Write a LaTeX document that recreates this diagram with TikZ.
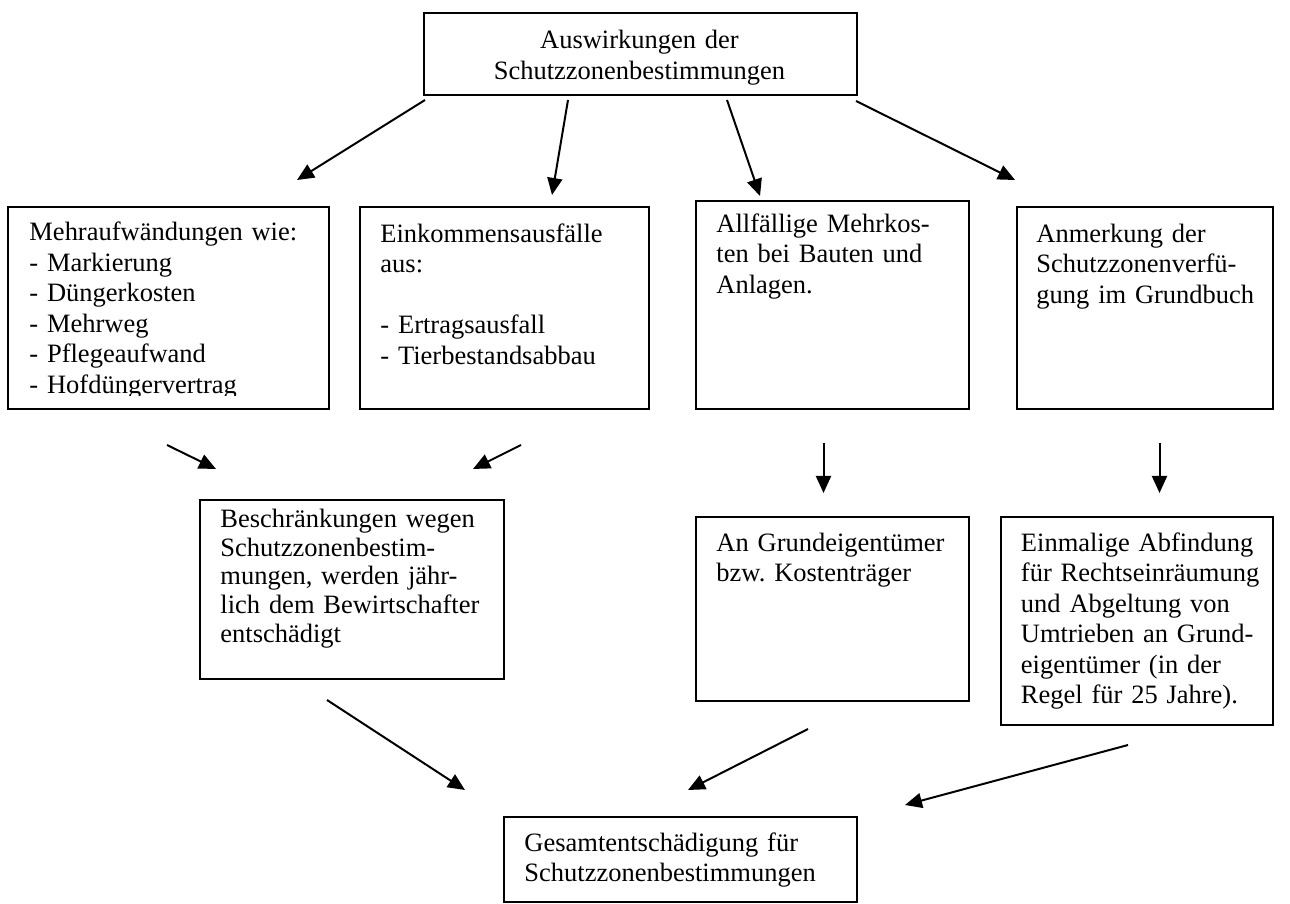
\documentclass[tikz,border=0pt]{standalone}
\usepackage{fontspec}
\setmainfont{Liberation Serif}
\usetikzlibrary{arrows.meta, calc}
\newcommand{\PixelSize}{0.453pt}
\tikzset{WhiteBox/.style={
    inner sep=0pt,
    anchor=north west,
    draw=black,
    line width=0.9pt,
    fill=white
    }
}
\tikzset{BoxText/.style={
    inner sep=0pt,
    anchor=base west,
    text width=330*\PixelSize,
    align=left,
    font=\fontsize{12}{13.8}\selectfont\frenchspacing
    }
}
\tikzset{Arrow/.style={
    draw=black,
    line width=0.9pt,
    -{Triangle[length=7.7pt, width=6.8pt]}
    }
}

\begin{document}
\begin{tikzpicture}[x=\PixelSize, y=-\PixelSize]
    \useasboundingbox (0,0) rectangle (1290,904);

    % boxes
    \node (Wirkung) [WhiteBox, minimum width=433*\PixelSize, minimum height=82*\PixelSize] at (423,12) {};
    \node (Mehr) [WhiteBox, minimum width=321*\PixelSize, minimum height=202*\PixelSize] at (7,206) {};
    \node (Einkommen) [WhiteBox, minimum width=289*\PixelSize, minimum height=202*\PixelSize] at (359,206) {};
    \node (Bauten) [WhiteBox, minimum width=273*\PixelSize, minimum height=208*\PixelSize] at (695,200) {};
    \node (Grundbuch) [WhiteBox, minimum width=256*\PixelSize, minimum height=202*\PixelSize] at (1016,206) {};
    \node (Beschr) [WhiteBox, minimum width=304*\PixelSize, minimum height=179*\PixelSize] at (199,499) {};
    \node (Eigner) [WhiteBox, minimum width=273*\PixelSize, minimum height=184*\PixelSize] at (695,516) {};
    \node (Abfindung) [WhiteBox, minimum width=272*\PixelSize, minimum height=208*\PixelSize] at (1000,516) {};
    \node (Gesamt) [WhiteBox, minimum width=353*\PixelSize, minimum height=85*\PixelSize] at (503,816) {};

    % texts
    \node (WirkungT) [BoxText, anchor=base, align=center, text width=420*\PixelSize] at (639.5,49)
        {Auswirkungen der\\Schutzzonenbestimmungen};
    \begin{scope}
        \clip (7,206) rectangle (328,396);
        \node (MehrT) [BoxText] at ($(Mehr.north west)+(22,35)$)
            {Mehraufwändungen wie:\\- Markierung\\- Düngerkosten\\- Mehrweg\\- Pflegeaufwand\\- Hofdüngervertrag};
    \end{scope}
    \node (EinkommenT) [BoxText] at ($(Einkommen.north west)+(21,36.5)$)
        {Einkommensausfälle\\aus:\\[\baselineskip]- Ertragsausfall\\- Tierbestandsabbau};
    \node (BautenT) [BoxText] at ($(Bauten.north west)+(21,32.5)$)
        {Allfällige Mehrkos-\\ten bei Bauten und\\Anlagen.};
    \node (GrundbuchT) [BoxText] at ($(Grundbuch.north west)+(20,36.5)$)
        {Anmerkung der\\Schutzzonenverfü-\\gung im Grundbuch};
    \node (BeschrT) [BoxText, font=\fontsize{12}{13}\selectfont\frenchspacing] at ($(Beschr.north west)+(21,28.5)$)
        {Beschränkungen wegen\\Schutzzonenbestim-\\mungen, werden jähr-\\lich dem Bewirtschafter\\entschädigt};
    \node (EignerT) [BoxText] at ($(Eigner.north west)+(21,35.5)$)
        {An Grundeigentümer\\bzw. Kostenträger};
    \node (AbfindungT) [BoxText] at ($(Abfindung.north west)+(20.5,35.5)$)
        {Einmalige Abfindung\\für Rechtseinräumung\\und Abgeltung von\\Umtrieben an Grund-\\eigentümer (in der\\Regel für 25 Jahre).};
    \node (GesamtT) [BoxText] at ($(Gesamt.north west)+(21,35)$)
        {Gesamtentschädigung für\\Schutzzonenbestimmungen};

    % free arrow ends
    \coordinate (s1) at (425,100);  \coordinate (e1) at (297,180);
    \coordinate (s2) at (568,100);  \coordinate (e2) at (552,195);
    \coordinate (s3) at (727,100);  \coordinate (e3) at (760,196);
    \coordinate (s4) at (856,101);  \coordinate (e4) at (1015,180);
    \coordinate (s5) at (167,445);  \coordinate (e5) at (216,469);
    \coordinate (s6) at (521,445);  \coordinate (e6) at (473,469);
    \coordinate (s7) at (823.5,443);  \coordinate (e7) at (823.5,493);
    \coordinate (s8) at (1159.5,443); \coordinate (e8) at (1159.5,493);
    \coordinate (s9) at (327,700);  \coordinate (e9) at (465,790);
    \coordinate (s10) at (808,729); \coordinate (e10) at (688,790);
    \coordinate (s11) at (1128,745); \coordinate (e11) at (905,805);

    \draw[Arrow] (s1) -- (e1);
    \draw[Arrow] (s2) -- (e2);
    \draw[Arrow] (s3) -- (e3);
    \draw[Arrow] (s4) -- (e4);
    \draw[Arrow] (s5) -- (e5);
    \draw[Arrow] (s6) -- (e6);
    \draw[Arrow] (s7) -- (e7);
    \draw[Arrow] (s8) -- (e8);
    \draw[Arrow] (s9) -- (e9);
    \draw[Arrow] (s10) -- (e10);
    \draw[Arrow] (s11) -- (e11);

\end{tikzpicture}
\end{document}
